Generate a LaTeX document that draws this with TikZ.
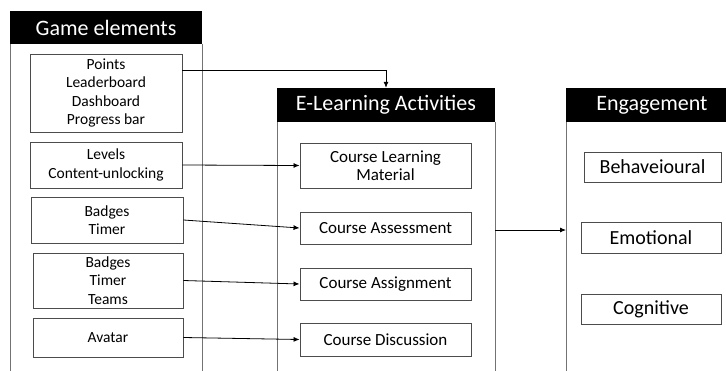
\documentclass[tikz,border=0pt]{standalone}
\usepackage{fontspec}
\setmainfont{Carlito}
\usetikzlibrary{arrows.meta}
\begin{document}
\begin{tikzpicture}[x=1pt,y=-1pt,
  head/.style={fill=black,text=white,font=\fontsize{22}{24}\selectfont,
    inner sep=0pt,minimum height=33pt,anchor=center},
  side/.style={draw=black!55,line width=0.9pt},
  item/.style={draw=black!70,line width=0.9pt,fill=white,align=center,
    inner sep=0pt,anchor=center},
  gitem/.style={item,font=\fontsize{15.5}{18.5}\selectfont},
  citem/.style={item,font=\fontsize{17}{18}\selectfont},
  eitem/.style={item,font=\fontsize{20}{22}\selectfont},
  link/.style={draw=black,line width=0.8pt,-{Latex[length=6pt,width=5pt]}}]
\clip (0,0) rectangle (726,370);
\fill[white] (0,0) rectangle (726,370);

% Game elements panel
\draw[side] (10,44) -- (10,372);
\draw[side] (202,44) -- (202,372);
\node[head,minimum width=192pt] (gh) at (106,27.5) {Game elements};
\node[gitem,minimum width=152pt,minimum height=78pt] (g1) at (106,93)
  {Points\\Leaderboard\\Dashboard\\Progress bar};
\node[gitem,minimum width=152pt,minimum height=46pt] (g2) at (106,165)
  {Levels\\Content-unlocking};
\node[gitem,minimum width=152pt,minimum height=46pt] (g3) at (107,220)
  {Badges\\Timer};
\node[gitem,minimum width=150pt,minimum height=55pt] (g4) at (108,280.5)
  {Badges\\Timer\\Teams};
\node[gitem,minimum width=150pt,minimum height=39pt] (g5) at (108,337.5)
  {Avatar};

% E-Learning Activities panel
\draw[side] (277,122) -- (277,372);
\draw[side] (495,122) -- (495,372);
\node[head,minimum width=218pt,minimum height=34pt] (eh) at (386,105) {E-Learning Activities};
\node[citem,minimum width=171pt,minimum height=45pt] (c1) at (385.5,165.5)
  {Course Learning\\Material};
\node[citem,minimum width=171pt,minimum height=32pt] (c2) at (385.5,228)
  {Course Assessment};
\node[citem,minimum width=171pt,minimum height=32pt] (c3) at (385.5,284)
  {Course Assignment};
\node[citem,minimum width=171pt,minimum height=33pt] (c4) at (385.5,339.5)
  {Course Discussion};

% Engagement panel
\draw[side] (566,122) -- (566,372);
\node[head,minimum width=172pt,minimum height=34pt] (nh) at (652,105) {Engagement};
\node[eitem,minimum width=137pt,minimum height=30pt] (n1) at (652.5,167)
  {Behaveioural};
\node[eitem,minimum width=140pt,minimum height=31pt] (n2) at (651,237.5)
  {Emotional};
\node[eitem,minimum width=140pt,minimum height=30pt] (n3) at (651,309)
  {Cognitive};

% connectors
\coordinate (ger) at (182,70);
\coordinate (eout) at (495,230);
\coordinate (nin) at (566,230);
\draw[link] (ger) -| (eh.north);
\draw[link] (g2.east) -- (c1.west);
\draw[link] (g3.east) -- (c2.west);
\draw[link] (g4.east) -- (c3.west);
\draw[link] (g5.east) -- (c4.west);
\draw[link] (eout) -- (nin);
\end{tikzpicture}
\end{document}
